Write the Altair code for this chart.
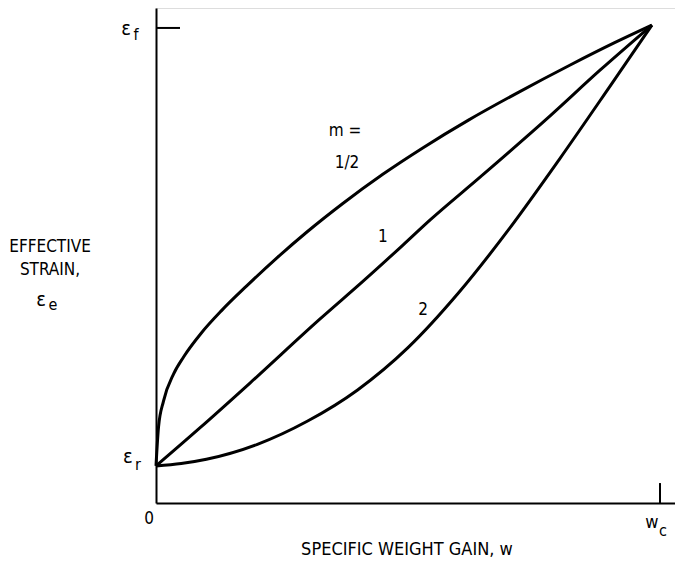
import altair as alt
import pandas as pd

# Curves (w as fraction of w_c, strain as fraction of eps_f scale)
w_half = [0.0, 0.005, 0.015, 0.035, 0.055, 0.09, 0.13, 0.18, 0.24, 0.30, 0.37, 0.45, 0.53, 0.62, 0.72, 0.82, 0.91, 0.984]
e_half = [0.078, 0.160, 0.215, 0.272, 0.308, 0.358, 0.405, 0.457, 0.516, 0.571, 0.630, 0.692, 0.748, 0.806, 0.865, 0.921, 0.969, 1.006]

w_one = [0.0, 0.087, 0.187, 0.325, 0.411, 0.490, 0.544, 0.643, 0.782, 0.881, 0.984]
e_one = [0.078, 0.158, 0.253, 0.387, 0.467, 0.543, 0.596, 0.686, 0.815, 0.911, 1.006]

w_two = [0.0, 0.05, 0.1, 0.2, 0.3, 0.4, 0.5, 0.6, 0.7, 0.8, 0.9, 0.984]
e_two = [0.078, 0.083, 0.092, 0.123, 0.172, 0.238, 0.327, 0.442, 0.576, 0.723, 0.876, 1.006]

rows = []
for name, ws, es in [("1/2", w_half, e_half), ("1", w_one, e_one), ("2", w_two, e_two)]:
    for i, (a, b) in enumerate(zip(ws, es)):
        rows.append({"m": name, "w": a, "e": b, "order": i})
curves = pd.DataFrame(rows)

# Annotation texts (positions in data units)
lab_text = ["0", "m =", "1/2", "1", "2", "EFFECTIVE", "STRAIN,"]
lab_x = [-0.0139, 0.375, 0.379, 0.450, 0.530, -0.2103, -0.2103]
lab_y = [-0.0337, 0.783, 0.716, 0.560, 0.406, 0.539, 0.4895]
eps_x = [-0.0595, -0.0556, -0.228]
eps_y = [0.998, 0.0968, 0.427]
sym_text = ["w"]
sym_x = [0.984]
sym_y = [-0.0421]
sub_text = ["f", "r", "c", "e"]
sub_x = [-0.0397, -0.0357, 1.006, -0.2043]
sub_y = [0.985, 0.0801, -0.0589, 0.416]
xtitle = ["SPECIFIC WEIGHT GAIN, w"]

labs = pd.DataFrame({"t": lab_text, "x": lab_x, "y": lab_y})
eps = pd.DataFrame({"t": ["ε"] * 3, "x": eps_x, "y": eps_y})
syms = pd.DataFrame({"t": sym_text, "x": sym_x, "y": sym_y})
subs = pd.DataFrame({"t": sub_text, "x": sub_x, "y": sub_y})
xt = pd.DataFrame({"t": xtitle, "x": [0.498], "y": [-0.099]})

ticks = pd.DataFrame({"x": [0.0], "x2": [0.0476], "y": [1.0]})
ticks_v = pd.DataFrame({"x": [1.0], "y": [0.0], "y2": [0.042]})

FONT = "DejaVu Sans Condensed"
xs = alt.Scale(domain=[0, 1.0298], nice=False, zero=False)
ys = alt.Scale(domain=[0, 1.042], nice=False, zero=False)
ax = alt.Axis(domain=True, domainColor="black", domainWidth=2, ticks=False, labels=False, grid=False, title=None)

lines = alt.Chart(curves).mark_line(color="black", strokeWidth=3, interpolate="monotone").encode(
    x=alt.X("w:Q", scale=xs, axis=ax),
    y=alt.Y("e:Q", scale=ys, axis=ax),
    detail="m:N",
    order="order:Q",
)

def txt(df, size):
    return alt.Chart(df).mark_text(font=FONT, fontSize=size, color="black", baseline="middle", align="center").encode(
        x=alt.X("x:Q", scale=xs), y=alt.Y("y:Q", scale=ys), text="t:N"
    )

r1 = alt.Chart(ticks).mark_rule(color="black", strokeWidth=2).encode(
    x=alt.X("x:Q", scale=xs), x2="x2:Q", y=alt.Y("y:Q", scale=ys)
)
r2 = alt.Chart(ticks_v).mark_rule(color="black", strokeWidth=2).encode(
    x=alt.X("x:Q", scale=xs), y=alt.Y("y:Q", scale=ys), y2="y2:Q"
)

chart = alt.layer(
    lines, r1, r2,
    txt(labs, 17), txt(eps, 20), txt(syms, 18), txt(subs, 16), txt(xt, 18),
).properties(
    width=519, height=495,
    autosize=alt.AutoSizeParams(type="none"),
    padding={"left": 148, "top": 0, "right": 0, "bottom": 56},
).configure_view(stroke=None).configure(background="white")

chart.save("out.html", embed_options={"renderer": "svg", "actions": False})
